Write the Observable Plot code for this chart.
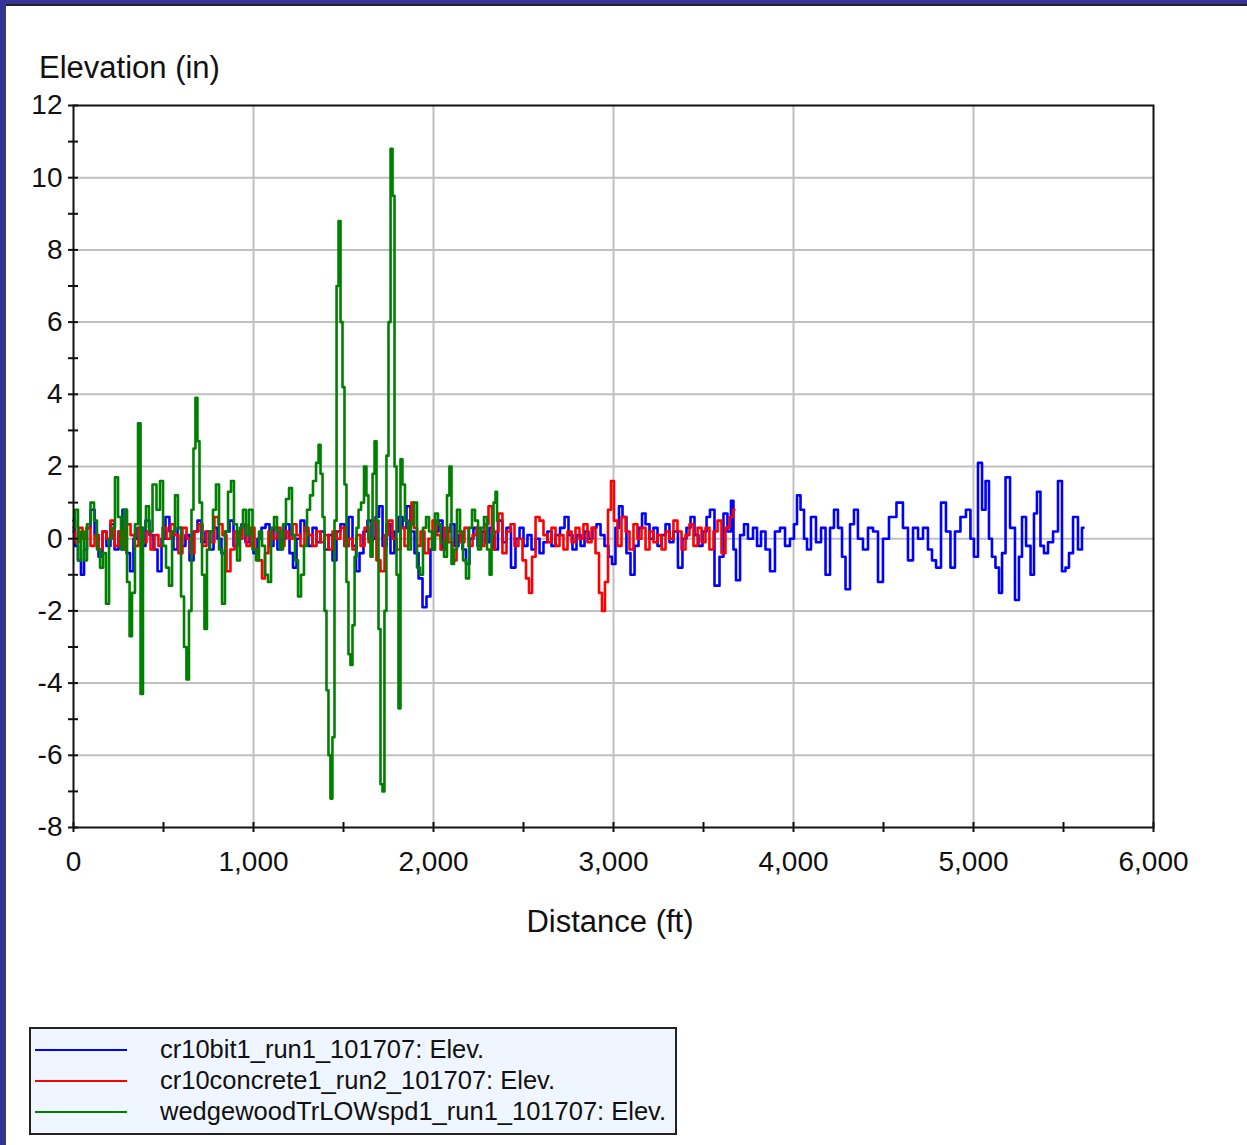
<!DOCTYPE html>
<html><head><meta charset="utf-8">
<script src="https://cdn.jsdelivr.net/npm/d3@7"></script>
<script src="https://cdn.jsdelivr.net/npm/@observablehq/plot@0.6"></script>
<style>
html,body{margin:0;padding:0;background:#fff;}
#page{position:relative;width:1247px;height:1145px;overflow:hidden;background:#fff;font-family:"Liberation Sans",Arial,sans-serif;color:#111;}
#bt{position:absolute;left:0;top:0;width:1247px;height:4px;background:#333399;}
#bl{position:absolute;left:0;top:0;width:5px;height:1145px;background:#333399;}
#btl{position:absolute;left:5px;top:4px;width:1242px;height:2px;background:#222;}
#bll{position:absolute;left:5px;top:4px;width:1px;height:1141px;background:#444;}
#chart{position:absolute;left:0;top:0;}
#ytitle{position:absolute;left:39px;top:52px;font-size:31px;line-height:31px;white-space:nowrap;}
#xtitle{position:absolute;left:410px;width:400px;text-align:center;top:906px;font-size:31px;line-height:31px;white-space:nowrap;}
#legend{position:absolute;left:29px;top:1027px;width:644px;height:99px;border:2px solid #222;background:#f0f6ff;padding-top:5px;box-sizing:content-box;}
.row{display:flex;align-items:center;height:31px;}
.sw{width:92px;height:2px;margin-left:4px;margin-right:33px;}
.lab{font-size:25.5px;line-height:31px;white-space:nowrap;}
</style>
</head><body>
<div id="page">
  <div id="bt"></div><div id="bl"></div><div id="btl"></div><div id="bll"></div>
  <div id="chart"></div>
  <div id="ytitle">Elevation (in)</div>
  <div id="xtitle">Distance (ft)</div>
  <div id="legend"></div>
</div>
<script>
// ---- series metadata ----
const seriesNames = ["cr10bit1_run1_101707: Elev.", "cr10concrete1_run2_101707: Elev.", "wedgewoodTrLOWspd1_run1_101707: Elev."];
const seriesColors = ["#0000ff", "#ff0000", "#008000"];

// ---- axis ticks ----
const xMajorTicks = [0, 1000, 2000, 3000, 4000, 5000, 6000];
const xAllTicks = [0, 500, 1000, 1500, 2000, 2500, 3000, 3500, 4000, 4500, 5000, 5500, 6000];
const yMajorTicks = [-8, -6, -4, -2, 0, 2, 4, 6, 8, 10, 12];
const yAllTicks = [-8, -7, -6, -5, -4, -3, -2, -1, 0, 1, 2, 3, 4, 5, 6, 7, 8, 9, 10, 11, 12];

// ---- blue: cr10bit1 ----
const blueDist = [0,17,33,50,67,83,106,128,150,172,194,217,239,261,283,306,322,344,367,389,411,433,456,478,500,522,544,567,589,611,633,656,678,700,722,744,767,789,811,833,856,878,900,922,944,967,989,1011,1033,1056,1078,1100,1122,1144,1167,1189,1211,1228,1250,1272,1294,1317,1339,1361,1383,1406,1428,1450,1472,1494,1517,1539,1561,1578,1600,1622,1644,1667,1689,1706,1728,1750,1772,1794,1817,1839,1861,1883,1906,1928,1950,1972,1994,2017,2039,2061,2083,2106,2128,2150,2172,2189,2211,2233,2256,2278,2300,2322,2344,2372,2394,2417,2444,2467,2489,2511,2533,2556,2578,2600,2622,2644,2667,2689,2717,2739,2761,2783,2806,2828,2850,2872,2894,2917,2939,2961,2983,3000,3022,3039,3061,3083,3106,3128,3150,3167,3189,3211,3233,3256,3278,3300,3322,3344,3372,3394,3417,3439,3461,3483,3506,3528,3544,3578,3600,3622,3644,3661,3672,3689,3717,3733,3761,3789,3806,3833,3856,3883,3911,3939,3967,3994,4011,4028,4050,4067,4083,4111,4139,4167,4189,4217,4233,4261,4278,4300,4328,4344,4372,4400,4428,4456,4483,4511,4550,4594,4622,4650,4678,4706,4733,4761,4778,4806,4833,4861,4883,4911,4944,4972,4994,5011,5039,5056,5078,5094,5111,5133,5150,5167,5189,5217,5244,5261,5278,5306,5328,5344,5361,5383,5400,5428,5456,5483,5500,5522,5539,5567,5594,5611];
const blueElev = [0.5,-0.2,-0.6,-1.0,-0.3,0.3,0.8,0.1,-0.5,0.2,-0.2,0.4,-0.3,0.2,0.8,-0.4,-0.9,0.0,0.3,-0.2,0.5,0.1,-0.3,-0.9,0.0,0.6,0.2,-0.3,0.3,-0.2,0.1,-0.6,0.2,0.5,-0.1,0.2,-0.3,0.3,0.0,-0.4,0.2,0.5,-0.2,0.1,0.4,-0.1,0.2,-0.4,0.0,0.3,0.4,-0.2,0.3,-0.3,0.0,0.4,-0.4,-0.8,0.0,0.5,0.2,-0.2,0.3,-0.1,0.2,-0.3,0.1,-0.6,0.2,0.4,-0.2,0.6,-0.2,-0.9,-0.4,0.2,0.5,0.0,0.6,0.9,-0.2,0.4,-0.4,0.2,0.6,0.3,0.9,0.2,-0.4,-1.1,-1.9,-1.6,-0.3,0.2,0.5,-0.3,0.2,0.4,-0.2,0.1,-0.3,-0.7,0.0,0.3,-0.2,0.2,-0.1,0.3,-0.3,0.5,-0.1,0.3,-0.8,0.0,0.3,-0.2,0.1,-0.3,0.0,-0.4,-0.1,0.2,-0.2,0.1,0.3,0.6,0.1,-0.3,0.1,-0.2,0.2,0.0,0.3,0.4,0.1,-0.2,-0.5,-0.7,0.3,0.9,0.6,-0.4,-1.0,-0.2,0.3,0.7,0.4,0.0,0.3,-0.2,0.1,0.4,-0.1,0.2,-0.8,0.0,0.3,0.6,0.1,-0.2,0.2,0.6,0.8,-1.3,-0.5,0.7,0.2,1.05,-0.3,-1.15,0.1,0.4,0.0,0.3,-0.2,0.2,-0.3,-0.9,0.2,0.3,-0.2,0.0,0.4,1.2,0.8,0.0,-0.3,0.6,-0.1,0.3,-1.0,0.3,0.8,0.3,-0.5,-1.4,0.4,0.8,0.0,-0.3,0.3,0.2,-1.2,0.0,0.6,1.0,0.3,-0.6,0.3,0.0,0.3,-0.3,-0.6,-0.8,1.0,0.2,-0.8,0.2,0.6,0.8,0.0,-0.5,2.1,0.8,1.6,0.0,-0.5,-0.8,-1.5,-0.4,1.7,0.3,-1.7,-0.5,0.6,-0.2,-1.0,0.7,1.3,-0.2,-0.4,-0.1,0.2,1.6,-0.9,-0.8,-0.4,0.6,-0.3,0.3];

// ---- red: cr10concrete1 ----
const redDist = [0,17,39,61,83,106,128,150,172,194,217,239,261,283,306,328,350,372,394,417,439,461,483,506,528,550,572,594,617,639,661,683,706,728,750,772,794,817,839,861,883,906,928,950,972,994,1017,1039,1056,1072,1094,1117,1139,1161,1183,1206,1228,1250,1272,1294,1317,1339,1361,1383,1406,1428,1450,1472,1494,1517,1539,1561,1583,1606,1628,1650,1672,1694,1717,1739,1761,1783,1806,1828,1850,1872,1883,1900,1917,1939,1961,1983,2006,2028,2050,2072,2094,2117,2139,2161,2183,2206,2228,2250,2272,2294,2317,2333,2350,2372,2394,2417,2439,2461,2483,2506,2522,2539,2556,2578,2600,2622,2644,2667,2689,2711,2733,2756,2778,2800,2822,2844,2867,2889,2911,2928,2944,2961,2978,2994,3011,3033,3056,3078,3100,3122,3144,3167,3189,3211,3233,3256,3278,3300,3322,3344,3367,3389,3411,3433,3456,3478,3500,3522,3544,3567,3589,3611,3633,3656,3672];
const redElev = [0.2,-0.1,0.3,0.0,0.3,-0.2,0.1,-0.3,0.2,0.0,0.5,-0.2,0.2,-0.3,0.4,0.1,-0.2,0.3,-0.1,0.2,-0.3,0.1,-0.2,0.3,0.0,0.4,0.1,-0.4,0.3,0.0,-0.4,0.2,0.4,-0.2,0.2,-0.1,0.6,0.4,0.1,-0.9,-0.3,0.2,0.0,0.4,-0.2,0.3,-0.3,-0.6,-1.1,-0.4,0.2,0.0,0.3,-0.2,0.2,0.0,0.4,0.1,-0.2,0.3,0.1,-0.2,0.2,-0.1,0.1,-0.3,0.2,0.0,0.3,-0.2,0.0,-0.3,0.1,-0.2,0.3,-0.1,0.5,-0.6,-0.9,0.1,0.5,0.0,-0.3,0.3,-0.2,0.4,1.0,0.3,-0.2,0.2,-0.4,0.0,0.5,0.1,-0.3,0.3,-0.1,-0.6,0.2,-0.1,0.3,-0.2,0.1,0.3,-0.2,0.4,0.9,-0.3,0.2,0.7,-0.4,0.2,0.4,-0.2,0.0,-0.6,-1.1,-1.5,-0.5,0.6,0.5,0.1,-0.1,0.3,-0.2,0.1,-0.3,0.2,-0.1,0.3,0.0,0.4,-0.1,0.3,-0.4,-1.5,-2.0,-1.2,0.8,1.6,0.5,-0.2,0.6,0.2,-0.3,0.4,0.0,0.3,-0.3,0.2,-0.1,0.1,-0.3,0.2,0.0,0.5,0.2,-0.3,0.1,0.4,-0.2,0.3,-0.1,0.3,-0.3,0.2,0.5,-0.4,0.3,0.6,0.8];

// ---- green: wedgewoodTrLOWspd1 ----
const greenDist = [0,17,33,50,67,83,106,122,139,156,172,189,206,222,239,256,272,289,306,317,333,350,367,378,394,411,428,450,472,489,506,522,539,556,572,589,606,622,633,650,661,672,683,694,706,722,733,750,767,783,800,817,833,850,867,883,900,917,933,950,967,983,1006,1022,1039,1056,1072,1089,1106,1122,1139,1156,1172,1189,1206,1222,1239,1256,1272,1289,1306,1322,1339,1356,1367,1378,1389,1400,1411,1422,1433,1444,1456,1467,1478,1489,1500,1511,1522,1533,1544,1556,1567,1578,1589,1606,1622,1633,1644,1656,1667,1678,1689,1700,1711,1722,1733,1744,1756,1767,1778,1789,1800,1811,1822,1833,1850,1867,1883,1900,1917,1933,1950,1967,1983,2000,2017,2033,2050,2067,2083,2094,2106,2122,2139,2156,2172,2189,2206,2222,2239,2256,2272,2289,2306,2317,2328,2339,2350,2356];
const greenElev = [0.3,0.8,-0.6,0.2,-0.6,0.4,1.0,0.5,-0.3,-0.8,-0.4,-1.8,0.0,0.3,1.7,0.6,-0.3,0.8,-1.2,-2.7,-1.5,0.4,3.2,-4.3,0.3,0.9,0.2,1.5,0.8,1.6,-0.2,-0.8,-1.3,0.2,1.2,0.3,-1.6,-3.0,-3.9,-2.0,0.8,2.5,3.9,2.7,1.0,-1.0,-2.5,-0.3,0.2,0.8,1.5,-0.3,-1.8,0.2,1.3,1.6,0.4,-0.6,0.3,0.8,0.1,0.8,-0.3,-0.6,0.2,-0.2,-1.0,-1.2,0.3,0.6,0.2,-0.3,0.4,1.1,1.4,0.1,-0.6,-1.6,-1.0,-0.2,0.8,1.2,1.6,2.1,2.6,1.8,0.6,-2.0,-4.2,-6.0,-7.2,-5.5,0.5,7.0,8.8,6.0,4.2,1.5,-1.2,-3.2,-3.5,-2.4,-0.5,0.3,0.8,1.0,2.0,1.2,0.0,-0.5,1.8,2.7,0.5,-2.5,-6.8,-7.0,-2.0,2.3,6.0,10.8,9.5,2.0,-1.0,-4.7,2.2,1.5,0.5,-0.3,0.4,1.0,-0.8,-1.0,0.3,0.6,0.2,-0.3,0.7,0.4,-0.1,-0.5,1.2,2.0,-0.7,-0.3,0.8,0.2,-0.6,-1.1,0.3,0.8,0.5,-0.3,0.3,0.6,-0.3,-1.0,0.1,1.0,1.3,0.5];

const series = [
  {name: seriesNames[0], dist: blueDist, elev: blueElev},
  {name: seriesNames[1], dist: redDist, elev: redElev},
  {name: seriesNames[2], dist: greenDist, elev: greenElev}
];
const rows = [];
series.forEach(s => s.dist.forEach((d, i) => rows.push({series: s.name, distance: d, elevation: s.elev[i]})));

const gridStyle = {stroke: "#c0c0c0", strokeOpacity: 1, strokeWidth: 2};
const chart = Plot.plot({
  width: 1247,
  height: 960,
  marginLeft: 73,
  marginRight: 94,
  marginTop: 105,
  marginBottom: 133,
  x: {domain: [0, 6000]},
  y: {domain: [-8, 12]},
  color: {domain: seriesNames, range: seriesColors},
  style: {fontFamily: '"Liberation Sans", Arial, sans-serif', fontSize: "28px", color: "#111", background: "transparent", overflow: "visible"},
  marks: [
    Plot.gridX(xMajorTicks.filter(t => t > 0 && t < 6000), gridStyle),
    Plot.gridY(yMajorTicks.filter(t => t > -8 && t < 12), gridStyle),
    Plot.line(rows, {x: "distance", y: "elevation", z: "series", stroke: "series", curve: "step", strokeWidth: 2.6}),
    Plot.frame({stroke: "#111", strokeWidth: 2}),
    Plot.axisX(xAllTicks, {tickSize: 10, dy: -5, fill: "none", stroke: "#111", strokeWidth: 2, label: null}),
    Plot.axisX(xMajorTicks, {tickSize: 0, tickPadding: 24, stroke: "none", fill: "#111", fontSize: 28, tickFormat: d3.format(","), label: null}),
    Plot.axisY(yAllTicks, {tickSize: 10, dx: 5, fill: "none", stroke: "#111", strokeWidth: 2, label: null}),
    Plot.axisY(yMajorTicks, {tickSize: 0, tickPadding: 11, stroke: "none", fill: "#111", fontSize: 28, tickFormat: d => String(d), label: null})
  ]
});
document.getElementById("chart").appendChild(chart);

// ---- legend ----
const legend = document.getElementById("legend");
seriesNames.forEach((n, i) => {
  const row = document.createElement("div");
  row.className = "row";
  const sw = document.createElement("div");
  sw.className = "sw";
  sw.style.background = seriesColors[i];
  const lab = document.createElement("div");
  lab.className = "lab";
  lab.textContent = n;
  row.appendChild(sw); row.appendChild(lab);
  legend.appendChild(row);
});
</script>
</body></html>
